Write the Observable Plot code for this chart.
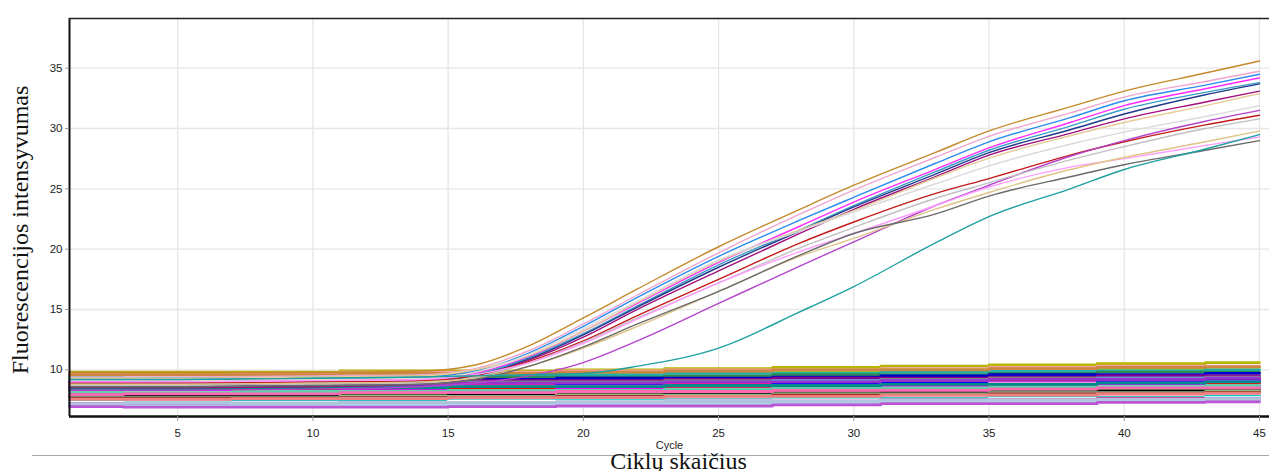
<!DOCTYPE html>
<html>
<head>
<meta charset="utf-8">
<script src="https://cdn.jsdelivr.net/npm/d3@7"></script>
<script src="https://cdn.jsdelivr.net/npm/@observablehq/plot@0.6"></script>
<style>
  html, body { margin: 0; padding: 0; background: #fff; }
  #chart { width: 1269px; height: 471px; overflow: hidden; }
</style>
</head>
<body>
<div id="chart"></div>
<script>
// ---------- data ----------
const xTicks = [5, 10, 15, 20, 25, 30, 35, 40, 45];
const yTicks = [10, 15, 20, 25, 30, 35];
const xDomain = [1, 45.37];
const yDomain = [6.129, 39.12];

const xLabel = "Cycle";
const xTitle = "Ciklų skaičius";
const yTitle = "Fluorescencijos intensyvumas";

// non-amplified (baseline) wells
const baseCycles = [1, 5, 9, 13, 17, 21, 25, 29, 33, 37, 41, 45];
const baseColors = [
  "#b8b400", "#f4a0a0", "#9acd32", "#20b2aa", "#2e8b57", "#0000cd",
  "#8b008b", "#808080", "#6495ed", "#ff1493", "#0000ff", "#dda0dd",
  "#ff0000", "#ff00ff", "#ffffff", "#4169e1", "#dc143c", "#556b2f",
  "#000000", "#8fbc8f", "#b22222", "#87ceeb", "#ffb6c1", "#00ced1",
  "#ffffff", "#c71585", "#9370db", "#add8e6", "#ba55d3", "#cd853f",
  "#66cdaa", "#ff69b4", "#008b8b", "#f08080", "#9932cc", "#b0c4de"
];
const baseValues = [
  [9.8, 9.8, 9.8, 9.9, 9.9, 10.0, 10.1, 10.2, 10.3, 10.4, 10.5, 10.6],
  [9.7, 9.7, 9.7, 9.8, 9.8, 9.9, 10.0, 10.0, 10.1, 10.2, 10.3, 10.3],
  [9.5, 9.6, 9.5, 9.6, 9.7, 9.7, 9.8, 9.9, 10.0, 10.0, 10.1, 10.2],
  [9.4, 9.3, 9.4, 9.4, 9.5, 9.6, 9.7, 9.7, 9.8, 9.9, 9.9, 10.0],
  [9.2, 9.2, 9.3, 9.3, 9.4, 9.4, 9.5, 9.6, 9.6, 9.7, 9.8, 9.8],
  [9.0, 9.1, 9.0, 9.1, 9.2, 9.3, 9.3, 9.4, 9.5, 9.6, 9.6, 9.7],
  [8.9, 8.9, 9.0, 9.0, 9.1, 9.1, 9.2, 9.3, 9.3, 9.4, 9.5, 9.5],
  [8.8, 8.8, 8.8, 8.9, 9.0, 9.0, 9.1, 9.1, 9.2, 9.3, 9.3, 9.4],
  [8.7, 8.7, 8.8, 8.8, 8.9, 8.9, 9.0, 9.1, 9.1, 9.2, 9.3, 9.3],
  [8.6, 8.6, 8.6, 8.7, 8.7, 8.8, 8.9, 8.9, 9.0, 9.1, 9.1, 9.2],
  [8.5, 8.5, 8.5, 8.6, 8.6, 8.7, 8.7, 8.8, 8.9, 8.9, 9.0, 9.1],
  [8.4, 8.4, 8.5, 8.5, 8.6, 8.6, 8.7, 8.7, 8.8, 8.9, 8.9, 9.0],
  [8.3, 8.3, 8.3, 8.4, 8.4, 8.5, 8.6, 8.6, 8.7, 8.7, 8.8, 8.9],
  [8.2, 8.2, 8.2, 8.3, 8.3, 8.4, 8.4, 8.5, 8.6, 8.6, 8.7, 8.7],
  [8.1, 8.1, 8.1, 8.2, 8.2, 8.3, 8.3, 8.4, 8.4, 8.5, 8.6, 8.6],
  [8.0, 8.0, 8.1, 8.1, 8.2, 8.2, 8.3, 8.3, 8.4, 8.4, 8.5, 8.6],
  [7.9, 7.9, 7.9, 8.0, 8.0, 8.1, 8.1, 8.2, 8.3, 8.3, 8.4, 8.4],
  [7.8, 7.8, 7.9, 7.9, 8.0, 8.0, 8.1, 8.1, 8.2, 8.2, 8.3, 8.4],
  [7.75, 7.8, 7.8, 7.8, 7.9, 7.9, 8.0, 8.0, 8.1, 8.1, 8.2, 8.2],
  [7.7, 7.7, 7.7, 7.8, 7.8, 7.9, 7.9, 8.0, 8.0, 8.1, 8.1, 8.2],
  [7.6, 7.6, 7.6, 7.7, 7.7, 7.8, 7.8, 7.9, 7.9, 8.0, 8.0, 8.1],
  [7.5, 7.5, 7.5, 7.6, 7.6, 7.7, 7.7, 7.8, 7.8, 7.9, 7.9, 8.0],
  [7.4, 7.4, 7.5, 7.5, 7.5, 7.6, 7.6, 7.7, 7.7, 7.8, 7.8, 7.9],
  [7.35, 7.3, 7.4, 7.4, 7.45, 7.5, 7.5, 7.6, 7.6, 7.7, 7.7, 7.8],
  [7.3, 7.25, 7.3, 7.3, 7.4, 7.4, 7.45, 7.5, 7.5, 7.6, 7.6, 7.7],
  [7.2, 7.2, 7.2, 7.3, 7.3, 7.3, 7.4, 7.4, 7.5, 7.5, 7.6, 7.6],
  [7.1, 7.1, 7.1, 7.2, 7.2, 7.3, 7.3, 7.3, 7.4, 7.4, 7.5, 7.5],
  [7.05, 7.0, 7.1, 7.1, 7.1, 7.2, 7.2, 7.3, 7.3, 7.3, 7.4, 7.45],
  [6.95, 6.9, 6.9, 6.9, 6.95, 7.0, 7.0, 7.1, 7.2, 7.2, 7.3, 7.35],
  [9.6, 9.6, 9.6, 9.7, 9.7, 9.8, 9.9, 10.0, 10.0, 10.1, 10.2, 10.25],
  [8.15, 8.1, 8.2, 8.2, 8.3, 8.3, 8.4, 8.5, 8.5, 8.6, 8.6, 8.7],
  [7.95, 8.0, 8.0, 8.1, 8.1, 8.2, 8.2, 8.3, 8.3, 8.4, 8.5, 8.5],
  [8.45, 8.45, 8.5, 8.5, 8.6, 8.6, 8.7, 8.7, 8.8, 8.8, 8.9, 9.0],
  [7.55, 7.55, 7.6, 7.6, 7.7, 7.7, 7.8, 7.8, 7.9, 7.9, 8.0, 8.05],
  [8.75, 8.75, 8.8, 8.8, 8.9, 8.9, 9.0, 9.0, 9.1, 9.2, 9.2, 9.3],
  [7.2, 7.25, 7.25, 7.3, 7.3, 7.35, 7.4, 7.4, 7.5, 7.5, 7.55, 7.6]
];

// amplified wells
const ampCycles = [1, 5, 10, 14, 16, 18, 20, 22, 25, 28, 30, 33, 35, 38, 40, 43, 45];
const ampColors = [
  "#c48a2c", "#eea6cf", "#2b8cf0", "#ff2bff", "#3d9dc4", "#203a8c",
  "#a0107e", "#e6cc98", "#dadada", "#c41a1a", "#b444cc", "#c0c0c0",
  "#ff9cff", "#dfc488", "#6a6a6a", "#1fa0a0"
];
const ampValues = [
  [9.8, 9.8, 9.8, 9.9, 10.4, 12.0, 14.3, 16.7, 20.2, 23.3, 25.3, 28.0, 29.8, 31.8, 33.1, 34.6, 35.6],
  [9.4, 9.4, 9.5, 9.6, 10.1, 11.6, 13.8, 16.2, 19.7, 22.9, 24.9, 27.6, 29.35, 31.3, 32.6, 33.9, 34.75],
  [9.2, 9.3, 9.3, 9.4, 9.9, 11.4, 13.6, 16.0, 19.4, 22.4, 24.3, 27.1, 28.9, 30.9, 32.3, 33.6, 34.5],
  [9.0, 9.0, 9.1, 9.2, 9.7, 11.1, 13.2, 15.5, 18.9, 21.9, 23.9, 26.6, 28.4, 30.5, 31.9, 33.3, 34.2],
  [8.8, 8.8, 8.9, 9.0, 9.6, 11.0, 13.0, 15.3, 18.7, 21.6, 23.6, 26.4, 28.2, 30.2, 31.6, 33.0, 33.8],
  [8.6, 8.6, 8.7, 8.9, 9.5, 10.9, 12.9, 15.2, 18.5, 21.5, 23.5, 26.2, 28.0, 29.9, 31.2, 32.8, 33.7],
  [8.5, 8.5, 8.6, 8.8, 9.4, 10.8, 12.7, 15.0, 18.2, 21.3, 23.3, 26.0, 27.8, 29.6, 30.8, 32.2, 33.1],
  [9.3, 9.3, 9.4, 9.5, 10.0, 11.2, 13.2, 15.6, 19.0, 21.6, 23.2, 25.9, 27.55, 29.4, 30.5, 31.9, 32.9],
  [9.1, 9.1, 9.2, 9.3, 9.8, 11.3, 13.4, 15.7, 19.1, 21.5, 23.1, 25.4, 26.9, 28.7, 29.7, 31.0, 31.9],
  [8.9, 8.9, 9.0, 9.1, 9.5, 10.7, 12.4, 14.5, 17.5, 20.5, 22.25, 24.6, 25.85, 27.8, 28.9, 30.3, 31.1],
  [8.3, 8.3, 8.4, 8.6, 8.9, 9.5, 10.6, 12.4, 15.5, 18.6, 20.6, 23.6, 25.3, 27.7, 29.0, 30.6, 31.5],
  [8.7, 8.7, 8.8, 8.9, 9.4, 10.6, 12.3, 14.3, 17.2, 20.1, 21.8, 24.2, 25.5, 27.4, 28.5, 30.0, 30.8],
  [9.0, 9.0, 9.1, 9.2, 9.6, 10.6, 12.2, 14.2, 17.2, 19.8, 21.3, 23.6, 25.15, 26.8, 27.5, 28.6, 29.3],
  [8.8, 8.8, 8.9, 9.0, 9.3, 10.3, 11.8, 13.6, 16.5, 19.4, 20.9, 23.3, 24.7, 26.6, 27.6, 28.9, 29.8],
  [8.6, 8.6, 8.7, 8.8, 9.2, 10.3, 11.9, 13.8, 16.5, 19.5, 21.3, 22.9, 24.4, 26.0, 27.0, 28.2, 29.0],
  [9.2, 9.2, 9.3, 9.4, 9.5, 9.6, 9.7, 10.3, 11.8, 14.8, 16.9, 20.5, 22.7, 25.0, 26.6, 28.3, 29.5]
];

// ---------- build tables ----------
const baseRows = baseValues.flatMap((vals, i) =>
  vals.map((v, j) => ({id: "b" + i, cycle: baseCycles[j], value: v, color: baseColors[i]})));
const ampRows = ampValues.flatMap((vals, i) =>
  vals.map((v, j) => ({id: "a" + i, cycle: ampCycles[j], value: v, color: ampColors[i]})));

const chart = Plot.plot({
  width: 1269,
  height: 471,
  marginLeft: 69,
  marginRight: 0,
  marginTop: 18,
  marginBottom: 55,
  x: {domain: xDomain},
  y: {domain: yDomain},
  color: {type: "identity"},
  style: {fontFamily: "'Liberation Sans', Arial, sans-serif", fontSize: "11.5px", color: "#222", background: "#fff"},
  marks: [
    Plot.gridX(xTicks, {stroke: "#e6e6e6", strokeOpacity: 1, strokeWidth: 1.3}),
    Plot.gridY(yTicks, {stroke: "#e6e6e6", strokeOpacity: 1, strokeWidth: 1.3}),
    Plot.line(baseRows, {x: "cycle", y: "value", z: "id", stroke: "color", strokeWidth: 2.8, curve: "step"}),
    Plot.line(ampRows, {x: "cycle", y: "value", z: "id", stroke: "color", strokeWidth: 1.4, curve: "monotone-x"}),
    Plot.ruleX([xDomain[0]], {stroke: "#111", strokeWidth: 2}),
    Plot.ruleY([yDomain[1]], {stroke: "#222", strokeWidth: 1.5}),
    Plot.ruleY([yDomain[0]], {stroke: "#111", strokeWidth: 2.5}),
    Plot.axisX(xTicks, {tickSize: 5, tickPadding: 7, label: null, stroke: "#999"}),
    Plot.axisY(yTicks, {tickSize: 4, tickPadding: 3, label: null, stroke: "#999"})
  ]
});
document.getElementById("chart").appendChild(chart);

// titles
const svg = d3.select(chart);
svg.append("line")
  .attr("x1", 32).attr("x2", 1269).attr("y1", 455.5).attr("y2", 455.5)
  .attr("stroke", "#a8a8a8").attr("stroke-width", 1.2);
svg.append("text")
  .attr("x", 669.5).attr("y", 449)
  .attr("text-anchor", "middle")
  .attr("font-family", "'Liberation Sans', Arial, sans-serif")
  .attr("font-size", 11).attr("fill", "#222")
  .text(xLabel);
svg.append("text")
  .attr("x", 678.5).attr("y", 469)
  .attr("text-anchor", "middle")
  .attr("font-family", "'Liberation Serif', 'Times New Roman', serif")
  .attr("font-size", 24).attr("fill", "#111")
  .text(xTitle);
svg.append("text")
  .attr("transform", "translate(28,230) rotate(-90)")
  .attr("text-anchor", "middle")
  .attr("font-family", "'Liberation Serif', 'Times New Roman', serif")
  .attr("font-size", 24).attr("fill", "#111")
  .text(yTitle);
</script>
</body>
</html>
